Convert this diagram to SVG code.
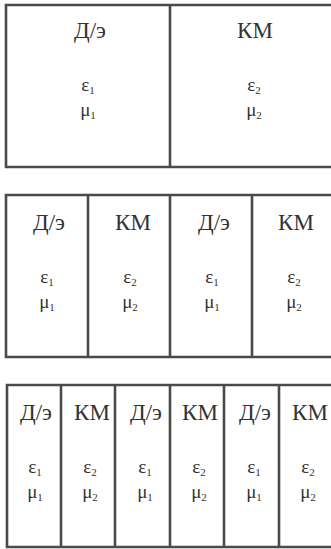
<svg xmlns="http://www.w3.org/2000/svg" width="331" height="549" viewBox="0 0 331 549">
<style>
.ln{fill:none;stroke:#4a4a4a;stroke-width:2.6;stroke-linecap:square}
.t{font-family:'Times New Roman','Liberation Serif',serif;fill:#333;text-anchor:middle}
.lbl{font-size:23px}
.sym{font-size:19px}
.sub{font-size:11px}
</style>
<rect width="331" height="549" fill="#fff"/>
<g id="frames">
<path class="ln" d="M333,5 H6 V167 H333 M170,5 V167"/>
<path class="ln" d="M333,195 H6 V357 H333 M88,195 V357 M170,195 V357 M252,195 V357"/>
<path class="ln" d="M333,385 H7 V547 H333 M61,385 V547 M115,385 V547 M170,385 V547 M224,385 V547 M279,385 V547"/>
</g>
<g id="r1c1"><text class="t lbl" x="90" y="38">Д/э</text><text class="t sym" x="88" y="91">ε<tspan class="sub" dy="3">1</tspan></text><text class="t sym" x="88" y="116">μ<tspan class="sub" dy="3">1</tspan></text></g>
<g id="r1c2"><text class="t lbl" x="255" y="38">КМ</text><text class="t sym" x="254" y="91">ε<tspan class="sub" dy="3">2</tspan></text><text class="t sym" x="254" y="116">μ<tspan class="sub" dy="3">2</tspan></text></g>
<g id="r2c1"><text class="t lbl" x="49" y="230">Д/э</text><text class="t sym" x="47" y="283">ε<tspan class="sub" dy="3">1</tspan></text><text class="t sym" x="47" y="308">μ<tspan class="sub" dy="3">1</tspan></text></g>
<g id="r2c2"><text class="t lbl" x="133" y="230">КМ</text><text class="t sym" x="130" y="283">ε<tspan class="sub" dy="3">2</tspan></text><text class="t sym" x="130" y="308">μ<tspan class="sub" dy="3">2</tspan></text></g>
<g id="r2c3"><text class="t lbl" x="214" y="230">Д/э</text><text class="t sym" x="212" y="283">ε<tspan class="sub" dy="3">1</tspan></text><text class="t sym" x="212" y="308">μ<tspan class="sub" dy="3">1</tspan></text></g>
<g id="r2c4"><text class="t lbl" x="296" y="230">КМ</text><text class="t sym" x="294" y="283">ε<tspan class="sub" dy="3">2</tspan></text><text class="t sym" x="294" y="308">μ<tspan class="sub" dy="3">2</tspan></text></g>
<g id="r3c1"><text class="t lbl" x="36" y="420">Д/э</text><text class="t sym" x="35" y="473">ε<tspan class="sub" dy="3">1</tspan></text><text class="t sym" x="35" y="498">μ<tspan class="sub" dy="3">1</tspan></text></g>
<g id="r3c2"><text class="t lbl" x="92" y="420">КМ</text><text class="t sym" x="90" y="473">ε<tspan class="sub" dy="3">2</tspan></text><text class="t sym" x="90" y="498">μ<tspan class="sub" dy="3">2</tspan></text></g>
<g id="r3c3"><text class="t lbl" x="146" y="420">Д/э</text><text class="t sym" x="145" y="473">ε<tspan class="sub" dy="3">1</tspan></text><text class="t sym" x="145" y="498">μ<tspan class="sub" dy="3">1</tspan></text></g>
<g id="r3c4"><text class="t lbl" x="200" y="420">КМ</text><text class="t sym" x="199" y="473">ε<tspan class="sub" dy="3">2</tspan></text><text class="t sym" x="199" y="498">μ<tspan class="sub" dy="3">2</tspan></text></g>
<g id="r3c5"><text class="t lbl" x="255" y="420">Д/э</text><text class="t sym" x="254" y="473">ε<tspan class="sub" dy="3">1</tspan></text><text class="t sym" x="254" y="498">μ<tspan class="sub" dy="3">1</tspan></text></g>
<g id="r3c6"><text class="t lbl" x="310" y="420">КМ</text><text class="t sym" x="308" y="473">ε<tspan class="sub" dy="3">2</tspan></text><text class="t sym" x="308" y="498">μ<tspan class="sub" dy="3">2</tspan></text></g>
</svg>
